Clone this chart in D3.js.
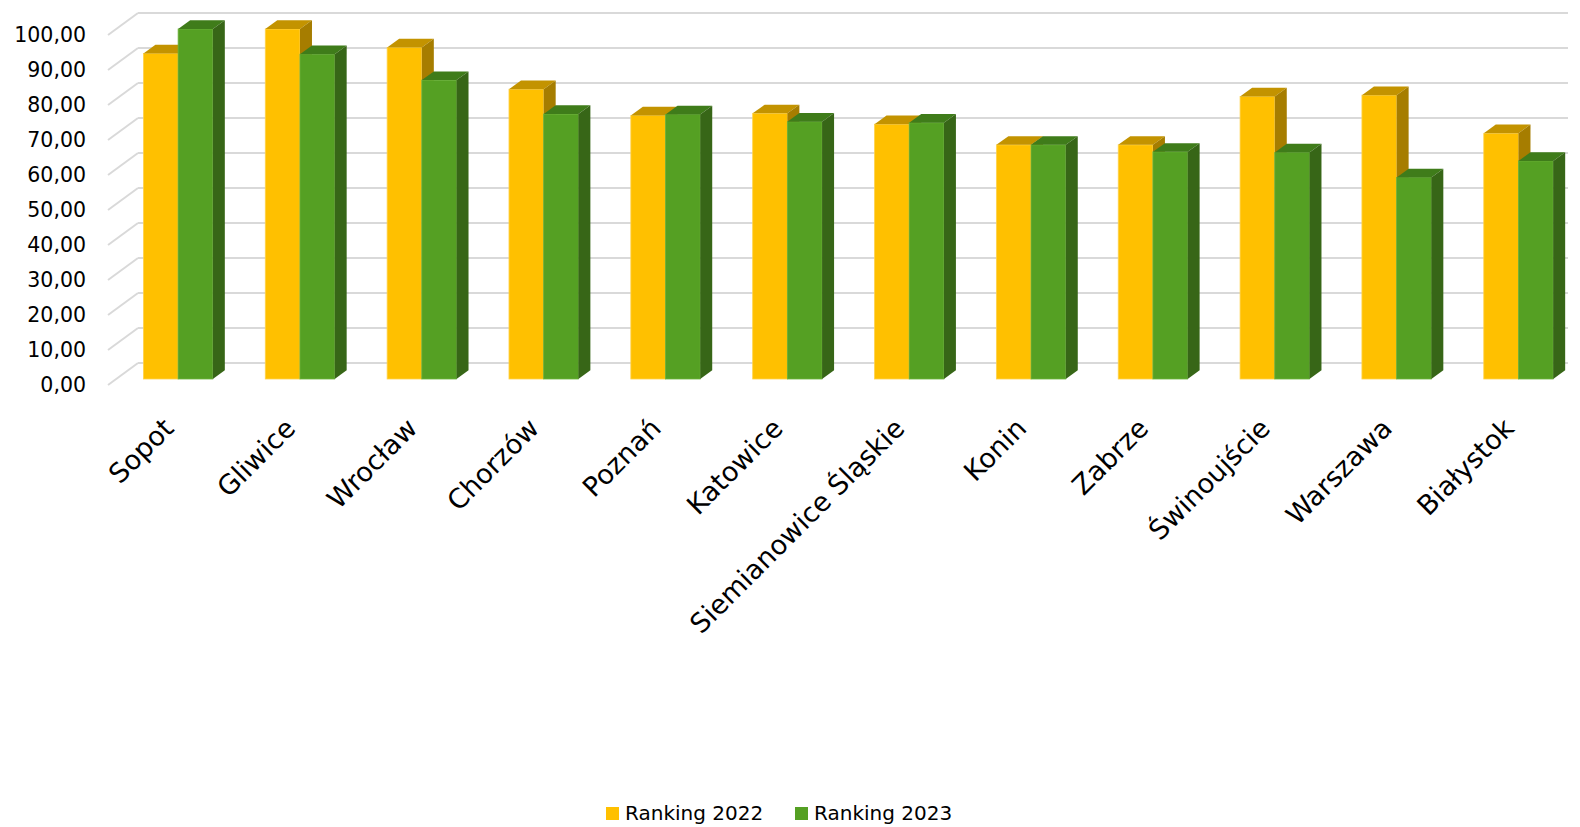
<!DOCTYPE html>
<html>
<head>
<meta charset="utf-8">
<script src="https://cdn.jsdelivr.net/npm/d3@7"></script>
<style>
  html, body { margin: 0; padding: 0; background: #ffffff; }
  svg { display: block; }
  text { font-family: "DejaVu Sans", Verdana, sans-serif; fill: #000; }
</style>
</head>
<body>
<svg id="chart" width="1580" height="827"></svg>
<script>
// ---- data ----
const categories = ["Sopot", "Gliwice", "Wrocław", "Chorzów", "Poznań", "Katowice",
  "Siemianowice Śląskie", "Konin", "Zabrze", "Świnoujście", "Warszawa", "Białystok"];
const seriesNames = ["Ranking 2022", "Ranking 2023"];
const ranking2022 = [93.0, 100.0, 94.7, 82.8, 75.3, 75.9, 72.8, 66.9, 66.9, 80.7, 81.1, 70.2];
const ranking2023 = [100.0, 92.8, 85.4, 75.7, 75.6, 73.5, 73.2, 66.9, 64.9, 64.7, 57.6, 62.3];
const yTicks = [0, 10, 20, 30, 40, 50, 60, 70, 80, 90, 100];

// ---- styling ----
const colors = [
  { front: "#FFC000", top: "#C39300", side: "#A67D00", edge: "#FFD34D" },
  { front: "#55A023", top: "#3F7C1A", side: "#376617", edge: "#6DB33B" }
];
const gridColor = "#D9D9D9";

const svg = d3.select("#chart");

// scales (front plane of the chart box)
const y = d3.scaleLinear().domain([0, 100]).range([385, 35]);
// depth offsets: front plane -> back wall, front plane -> bar face
const wallDX = 30, wallDY = -22;
const barDY = -6;
const barDepthX = 12, barDepthY = -8.7;

const x0 = d3.scaleBand().domain(categories).range([117.2, 1579.4])
  .paddingInner(0.4305).paddingOuter(0.21525);
const x1 = d3.scaleBand().domain(seriesNames).range([0, x0.bandwidth()]);

const wallLeft = 108 + wallDX, wallRight = 1568;

// gridlines
const grid = svg.append("g");
yTicks.forEach(t => {
  grid.append("line")
    .attr("x1", 108).attr("y1", y(t))
    .attr("x2", wallLeft).attr("y2", y(t) + wallDY)
    .attr("stroke", gridColor).attr("stroke-width", 2);
  grid.append("line")
    .attr("x1", wallLeft).attr("y1", y(t) + wallDY)
    .attr("x2", wallRight).attr("y2", y(t) + wallDY)
    .attr("stroke", gridColor).attr("stroke-width", 2);
});

// y axis labels
const fmt = v => d3.format(".2f")(v).replace(".", ",");
const yAxis = d3.axisLeft(y).tickValues(yTicks).tickFormat(fmt).tickSize(0).tickPadding(0);
const ga = svg.append("g").attr("transform", "translate(86,0)").call(yAxis);
ga.select(".domain").remove();
ga.selectAll("text").attr("font-size", 20.5).attr("font-family", "DejaVu Sans, Verdana, sans-serif").attr("fill", "#000");

// bars
const data = categories.map((c, i) => ({ cat: c, vals: [ranking2022[i], ranking2023[i]] }));
const barsG = svg.append("g");
data.forEach(d => {
  d.vals.forEach((v, si) => {
    const xl = x0(d.cat) + x1(seriesNames[si]);
    const w = x1.bandwidth();
    const yb = y(0) + barDY;
    const yt = y(v) + barDY;
    const c = colors[si];
    const g = barsG.append("g");
    // front
    g.append("rect").attr("x", xl).attr("y", yt).attr("width", w).attr("height", yb - yt)
      .attr("fill", c.front).attr("stroke", c.edge).attr("stroke-width", 0.8);
    // top
    g.append("path").attr("d", `M${xl},${yt} L${xl + barDepthX},${yt + barDepthY} L${xl + w + barDepthX},${yt + barDepthY} L${xl + w},${yt} Z`)
      .attr("fill", c.top);
    // side
    g.append("path").attr("d", `M${xl + w},${yt} L${xl + w + barDepthX},${yt + barDepthY} L${xl + w + barDepthX},${yb + barDepthY} L${xl + w},${yb} Z`)
      .attr("fill", c.side);
  });
});

// category labels
const labG = svg.append("g");
categories.forEach(c => {
  const cx = x0(c) + x0.bandwidth() / 2;
  labG.append("text")
    .attr("transform", `translate(${cx - 3},${430}) rotate(-45)`)
    .attr("text-anchor", "end")
    .attr("font-size", 27)
    .text(c);
});

// legend
const legend = svg.append("g");
const legendX = [606, 795];
seriesNames.forEach((s, i) => {
  legend.append("rect").attr("x", legendX[i]).attr("y", 807).attr("width", 13).attr("height", 13)
    .attr("fill", colors[i].front);
  legend.append("text").attr("x", legendX[i] + 19).attr("y", 820)
    .attr("font-size", 20).text(s);
});
</script>
</body>
</html>
